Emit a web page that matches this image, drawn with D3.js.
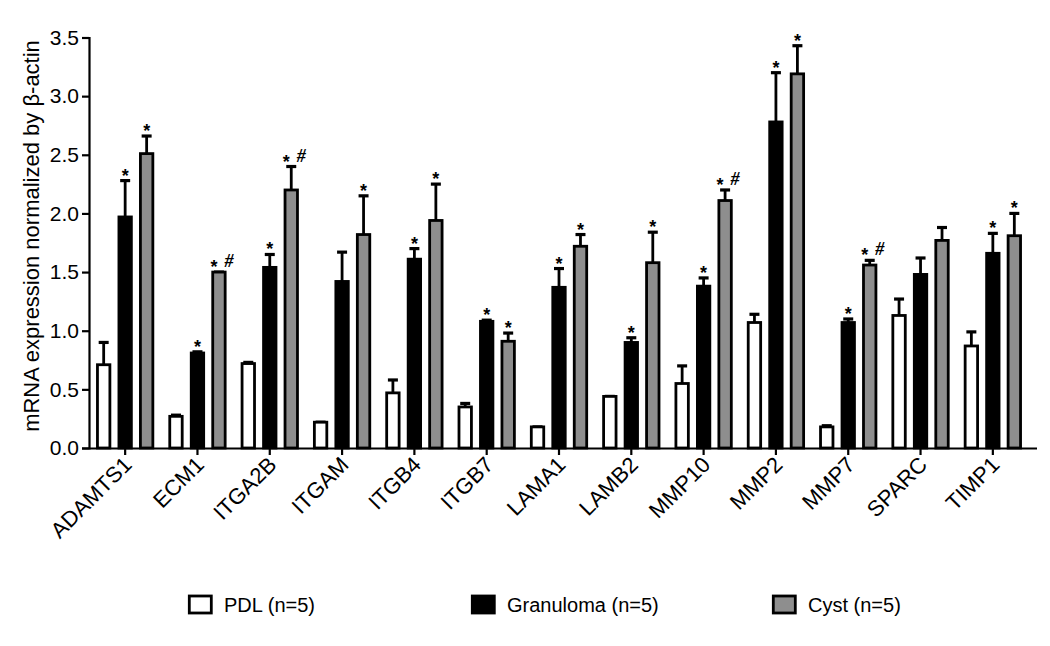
<!DOCTYPE html>
<html>
<head>
<meta charset="utf-8">
<script src="https://cdn.jsdelivr.net/npm/d3@7"></script>
<style>
  html, body { margin: 0; padding: 0; background: #fff; }
  svg { display: block; font-family: "Liberation Sans", Arial, sans-serif; }
</style>
</head>
<body>
<svg id="chart" width="1050" height="646"></svg>
<script>
// ---- Data ----
const categories = ["ADAMTS1","ECM1","ITGA2B","ITGAM","ITGB4","ITGB7","LAMA1","LAMB2","MMP10","MMP2","MMP7","SPARC","TIMP1"];
const seriesNames = ["PDL (n=5)","Granuloma (n=5)","Cyst (n=5)"];
const pdlValues       = [0.71,0.27,0.72,0.22,0.47,0.35,0.18,0.44,0.55,1.07,0.18,1.13,0.87];
const pdlErrors       = [0.19,0.01,0.01,0.00,0.11,0.03,0.00,0.00,0.15,0.07,0.01,0.14,0.12];
const granulomaValues = [1.97,0.81,1.54,1.42,1.61,1.08,1.37,0.90,1.38,2.78,1.07,1.48,1.66];
const granulomaErrors = [0.31,0.01,0.11,0.25,0.09,0.01,0.16,0.04,0.07,0.42,0.03,0.14,0.17];
const cystValues      = [2.51,1.50,2.20,1.82,1.94,0.91,1.72,1.58,2.11,3.19,1.56,1.77,1.81];
const cystErrors      = [0.15,0.00,0.20,0.33,0.31,0.07,0.10,0.26,0.09,0.24,0.04,0.11,0.19];
const pdlMarks        = ["","","","","","","","","","","","",""];
const granulomaMarks  = ["*","*","*","","*","*","*","*","*","*","*","","*"];
const cystMarks       = ["*","* #","* #","*","*","*","*","*","* #","*","* #","","*"];
const yTicks = [0,0.5,1.0,1.5,2.0,2.5,3.0,3.5];
const yTitle = "mRNA expression normalized by \u03B2-actin";

const fills = ["#ffffff","#000000","#8e8e8e"];
const series = [
  {name: seriesNames[0], values: pdlValues, errors: pdlErrors, marks: pdlMarks},
  {name: seriesNames[1], values: granulomaValues, errors: granulomaErrors, marks: granulomaMarks},
  {name: seriesNames[2], values: cystValues, errors: cystErrors, marks: cystMarks}
];

// ---- Layout ----
const svg = d3.select("#chart");
const x0 = 89, x1 = 1029, yBottom = 448, yTop = 37.5;

const x = d3.scaleBand().domain(categories).range([x0, x1]);
const xs = d3.scaleBand().domain(seriesNames).range([-29, 29]).paddingInner(0.3);
const y = d3.scaleLinear().domain([0, 3.5]).range([yBottom, yTop]);

// Bars
const g = svg.append("g");
series.forEach((s, si) => {
  const grp = g.append("g");
  categories.forEach((c, i) => {
    const cx = x(c) + x.bandwidth() / 2 + xs(s.name) + xs.bandwidth() / 2;
    const v = s.values[i], e = s.errors[i];
    if (e > 0) {
      grp.append("line")
        .attr("x1", cx).attr("x2", cx)
        .attr("y1", y(v)).attr("y2", y(v + e))
        .attr("stroke", "#000").attr("stroke-width", 2.8);
    }
    grp.append("line")
      .attr("x1", cx - 5).attr("x2", cx + 5)
      .attr("y1", y(v + e)).attr("y2", y(v + e))
      .attr("stroke", "#000").attr("stroke-width", 3.2);
    grp.append("rect")
      .attr("x", cx - xs.bandwidth() / 2 + 1.3)
      .attr("width", xs.bandwidth() - 2.6)
      .attr("y", y(v))
      .attr("height", y(0) - y(v))
      .attr("fill", fills[si])
      .attr("stroke", "#000")
      .attr("stroke-width", 2.8);
    const m = s.marks[i];
    if (m) {
      const ty = y(v + e);
      grp.append("text")
        .attr("x", m.includes("#") ? cx - 5 : cx)
        .attr("y", ty + 1)
        .attr("text-anchor", "middle")
        .attr("font-size", 18)
        .attr("font-weight", "bold")
        .text("*");
      if (m.includes("#")) {
        grp.append("text")
          .attr("x", cx + 10)
          .attr("y", ty - 5)
          .attr("text-anchor", "middle")
          .attr("font-family", "Liberation Serif, serif")
          .attr("font-style", "italic")
          .attr("font-weight", "bold")
          .attr("font-size", 18)
          .text("#");
      }
    }
  });
});

// Y axis
const yAxis = svg.append("g")
  .attr("transform", `translate(${x0},0)`)
  .call(d3.axisLeft(y).tickValues(yTicks).tickFormat(d3.format(".1f")).tickSize(7).tickSizeOuter(7).tickPadding(3));
yAxis.selectAll("path, line").attr("stroke", "#000").attr("stroke-width", 2.2);
yAxis.selectAll("text").attr("font-size", 21).attr("fill", "#000").attr("font-family", "Liberation Sans, Arial, sans-serif");

// X axis
const xAxis = svg.append("g")
  .attr("transform", `translate(0,${yBottom})`)
  .call(d3.axisBottom(x).tickSize(7).tickSizeOuter(0).tickFormat(""));
xAxis.select(".domain").attr("d", `M${x0},0.5H1037`);
xAxis.selectAll("path, line").attr("stroke", "#000").attr("stroke-width", 2.2);

// Category labels
svg.append("g").selectAll("text")
  .data(categories).join("text")
  .attr("transform", d => `translate(${x(d) + x.bandwidth() / 2 + 8},${yBottom + 18}) rotate(-45)`)
  .attr("text-anchor", "end")
  .attr("font-size", 22)
  .attr("fill", "#000")
  .text(d => d);

// Y title
svg.append("text")
  .attr("transform", `translate(39,236) rotate(-90)`)
  .attr("text-anchor", "middle")
  .attr("font-size", 22)
  .attr("fill", "#000")
  .text(yTitle);

// Legend
const legendX = [188, 471, 772];
const legend = svg.append("g");
series.forEach((s, si) => {
  legend.append("rect")
    .attr("x", legendX[si] + 1.3).attr("y", 596)
    .attr("width", 22).attr("height", 17)
    .attr("fill", fills[si]).attr("stroke", "#000").attr("stroke-width", 2.8);
  legend.append("text")
    .attr("x", legendX[si] + 36).attr("y", 612)
    .attr("font-size", 20)
    .attr("fill", "#000")
    .text(s.name);
});
</script>
</body>
</html>
